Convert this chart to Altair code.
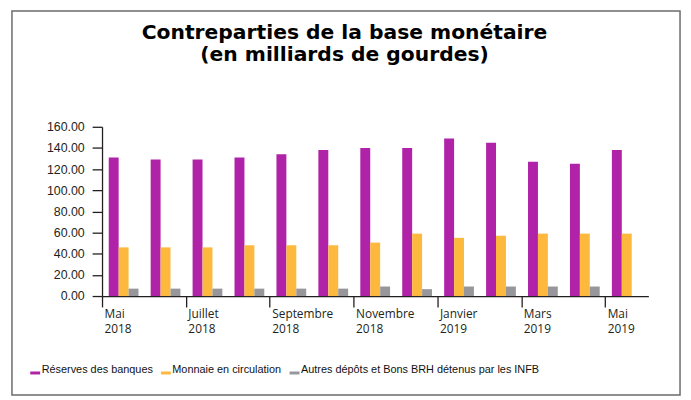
import altair as alt
import pandas as pd

title_lines = ["Contreparties de la base monétaire", "(en milliards de gourdes)"]
months = ["Mai 2018", "Juin 2018", "Juillet 2018", "Août 2018", "Septembre 2018",
          "Octobre 2018", "Novembre 2018", "Décembre 2018", "Janvier 2019",
          "Février 2019", "Mars 2019", "Avril 2019", "Mai 2019"]
reserves = [131, 129, 129, 131, 134, 138, 140, 140, 149, 145, 127, 125, 138]
monnaie = [46, 46, 46, 48, 48, 48, 50.5, 59, 55, 57, 59, 59, 59]
autres = [7, 7, 7, 7, 7, 7, 9, 6.5, 9, 9, 9, 9, 0]
series = ["Réserves des banques", "Monnaie en circulation",
          "Autres dépôts et Bons BRH détenus par les INFB"]
colors = ["#B023A8", "#FDB93E", "#97979B"]
tick_months = months[::2]

rows = []
for i, m in enumerate(months):
    for s, vals in zip(series, [reserves, monnaie, autres]):
        rows.append({"mois": m, "serie": s, "valeur": vals[i]})
df = pd.DataFrame(rows)

W, H = 552, 171
PI, PO = 0.29, 0.16
step = W / (len(months) - PI + 2 * PO)
band_start = PO * step
bandwidth = step * (1 - PI)

axis_color = "#231F20"

bars = alt.Chart(df).mark_bar().encode(
    x=alt.X("mois:N", sort=months,
            scale=alt.Scale(paddingInner=PI, paddingOuter=PO),
            axis=alt.Axis(title=None, values=tick_months, bandPosition=0,
                          tickOffset=-(band_start - step * PI / 2) - step * PI / 2,
                          labelOffset=2 - bandwidth / 2,
                          labelAlign="left", labelBaseline="top",
                          labelExpr="split(datum.label, ' ')",
                          labelLineHeight=15, labelPadding=2, tickSize=11,
                          labelFont="Open Sans", labelFontSize=12,
                          labelColor=axis_color, labelOverlap=False,
                          domainColor=axis_color, tickColor=axis_color,
                          domainWidth=1.3, tickWidth=1.3, labelAngle=0)),
    xOffset=alt.XOffset("serie:N", sort=series,
                        scale=alt.Scale(paddingInner=0, paddingOuter=0)),
    y=alt.Y("valeur:Q", scale=alt.Scale(domain=[0, 160], nice=False),
            axis=alt.Axis(title=None, values=list(range(0, 161, 20)), format=".2f",
                          tickSize=10, labelPadding=8, grid=False,
                          labelFont="Liberation Sans", labelFontSize=12.5,
                          labelColor=axis_color, domainColor=axis_color,
                          tickColor=axis_color, domainWidth=1.3, tickWidth=1.3)),
    color=alt.Color("serie:N", sort=series,
                    scale=alt.Scale(domain=series, range=colors),
                    legend=alt.Legend(title=None, orient="none", legendX=-73,
                                      legendY=240, direction="horizontal",
                                      symbolType="M-1,0.3H1V0.9H-1Z",
                                      symbolSize=100, symbolStrokeWidth=0,
                                      labelFont="Liberation Sans",
                                      labelFontSize=11, labelColor="#111",
                                      labelOffset=1, columnPadding=7,
                                      labelLimit=500, padding=0)),
)

frame = alt.Chart(pd.DataFrame({"k": [0]})).mark_rect(
    fill="transparent", stroke="#6b6b6b", strokeWidth=1.5
).encode(x=alt.value(-91), x2=alt.value(584), y=alt.value(-117), y2=alt.value(271))

title_layers = []
for line, ypos in zip(title_lines, [-89, -66]):
    title_layers.append(
        alt.Chart(pd.DataFrame({"t": [line]})).mark_text(
            font="DejaVu Sans", fontSize=20.5, fontWeight="bold", color="#000",
            align="center", baseline="alphabetic"
        ).encode(text="t:N", x=alt.value(245), y=alt.value(ypos))
    )

chart = alt.layer(frame, bars, *title_layers).properties(
    width=W, height=H,
    padding={"left": 95, "top": 118, "right": 35, "bottom": 101},
    autosize=alt.AutoSizeParams(type="none"),
).configure_view(strokeWidth=0)

chart.save("out.html", embed_options={"renderer": "svg", "actions": False})
